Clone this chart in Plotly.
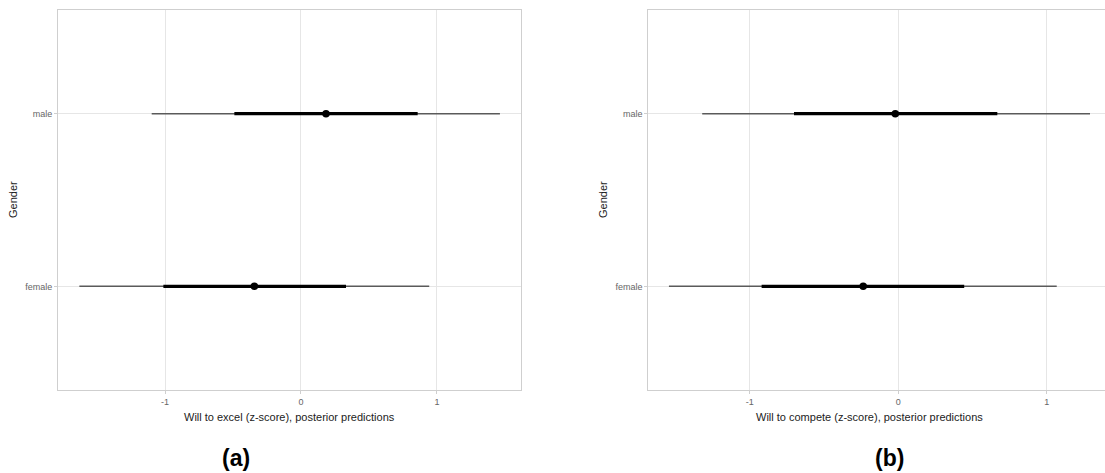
import plotly.graph_objects as go

# ---- data ----
genders = ["female", "male"]

# panel (a): Will to excel
excel_point = [-0.343, 0.184]
excel_inner_lo = [-1.012, -0.490]
excel_inner_hi = [0.331, 0.858]
excel_outer_lo = [-1.630, -1.098]
excel_outer_hi = [0.943, 1.463]

# panel (b): Will to compete
compete_point = [-0.236, -0.020]
compete_inner_lo = [-0.920, -0.702]
compete_inner_hi = [0.444, 0.667]
compete_outer_lo = [-1.544, -1.320]
compete_outer_hi = [1.067, 1.291]

x_ticks = [-1, 0, 1]
x_ticktext = ["-1", "0", "1"]

W, H = 1105, 473
FONT = "Liberation Sans, Arial, sans-serif"

fig = go.Figure()


def add_panel(fig, xa, ya, point, ilo, ihi, olo, ohi):
    for i, g in enumerate(genders):
        fig.add_trace(go.Scatter(x=[olo[i], ohi[i]], y=[g, g], mode="lines",
                                 line=dict(color="#5a5a5a", width=1.5),
                                 xaxis=xa, yaxis=ya, showlegend=False, hoverinfo="skip"))
        fig.add_trace(go.Scatter(x=[ilo[i], ihi[i]], y=[g, g], mode="lines",
                                 line=dict(color="#000000", width=3.4),
                                 xaxis=xa, yaxis=ya, showlegend=False, hoverinfo="skip"))
    fig.add_trace(go.Scatter(x=point, y=genders, mode="markers",
                             marker=dict(color="#000000", size=7.5),
                             xaxis=xa, yaxis=ya, showlegend=False))


add_panel(fig, "x", "y", excel_point, excel_inner_lo, excel_inner_hi, excel_outer_lo, excel_outer_hi)
add_panel(fig, "x2", "y2", compete_point, compete_inner_lo, compete_inner_hi, compete_outer_lo, compete_outer_hi)

ydom = [1 - 390 / H, 1 - 10 / H]
common_x = dict(tickvals=x_ticks, ticktext=x_ticktext, showgrid=True, gridcolor="#e6e6e6",
                gridwidth=1, zeroline=False, showline=True, mirror=True, linecolor="#cfcfcf",
                linewidth=1, ticks="outside", ticklen=3, tickcolor="#cfcfcf",
                tickfont=dict(family=FONT, size=9, color="#666666"), fixedrange=True)
common_y = dict(type="category", categoryorder="array", categoryarray=genders,
                range=[-0.6, 1.6], showgrid=True, gridcolor="#e6e6e6", gridwidth=1,
                zeroline=False, showline=True, mirror=True, linecolor="#cfcfcf", linewidth=1,
                ticks="outside", ticklen=3, tickcolor="#cfcfcf",
                tickfont=dict(family=FONT, size=9, color="#666666"), domain=ydom, fixedrange=True)

fig.update_layout(
    width=W, height=H, margin=dict(l=0, r=0, t=0, b=0),
    paper_bgcolor="white", plot_bgcolor="white",
    xaxis=dict(domain=[58 / W, 521 / W], range=[-1.787, 1.618], anchor="y", **common_x),
    yaxis=dict(anchor="x", **common_y),
    xaxis2=dict(domain=[648.3 / W, 1.0], range=[-1.683, 1.392], anchor="y2", **common_x),
    yaxis2=dict(anchor="x2", **common_y),
    font=dict(family=FONT),
)

ann = []
def txt(x, y, s, size, color="#222222", bold=False, angle=0):
    ann.append(dict(x=x / W, y=1 - y / H, xref="paper", yref="paper", text=("<b>%s</b>" % s) if bold else s,
                    showarrow=False, xanchor="center", yanchor="middle", textangle=angle,
                    font=dict(family=FONT, size=size, color=color)))

txt(289.5, 417, "Will to excel (z-score), posterior predictions", 11)
txt(869, 417, "Will to compete (z-score), posterior predictions", 11)
txt(13, 200, "Gender", 11, angle=-90)
txt(603, 200, "Gender", 11, angle=-90)
txt(236, 458, "(a)", 23, color="#000000", bold=True)
txt(889, 458, "(b)", 23, color="#000000", bold=True)
fig.update_layout(annotations=ann)

fig.write_html("out.html", config={"displayModeBar": False},
               post_script="document.body.style.margin='0';document.body.style.overflow='hidden';")
